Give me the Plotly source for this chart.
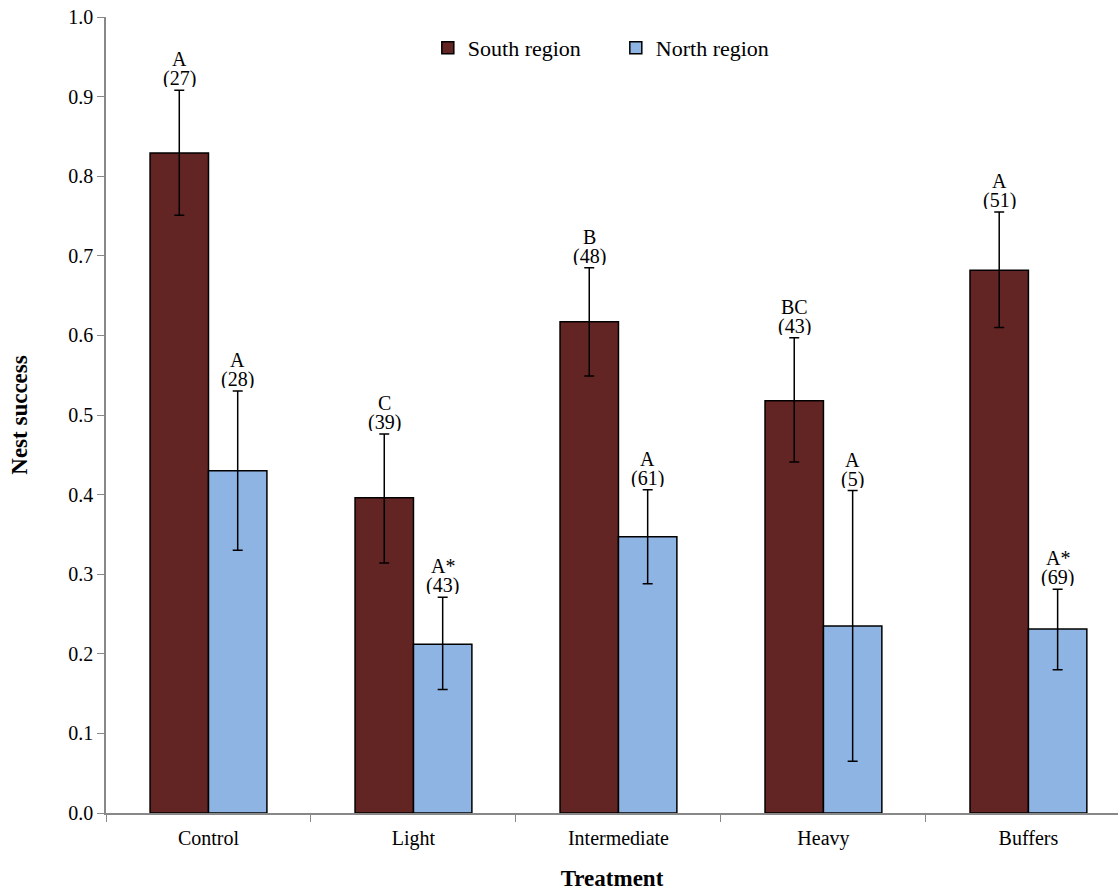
import plotly.graph_objects as go

treatments = ["Control", "Light", "Intermediate", "Heavy", "Buffers"]
south = [0.829, 0.396, 0.617, 0.518, 0.682]
south_hi = [0.908, 0.476, 0.685, 0.597, 0.755]
south_lo = [0.751, 0.314, 0.549, 0.441, 0.610]
north = [0.430, 0.212, 0.347, 0.235, 0.231]
north_hi = [0.530, 0.271, 0.406, 0.405, 0.281]
north_lo = [0.330, 0.155, 0.288, 0.065, 0.180]
south_letters = ["A", "C", "B", "BC", "A"]
south_n = [27, 39, 48, 43, 51]
north_letters = ["A", "A*", "A", "A", "A*"]
north_n = [28, 43, 61, 5, 69]

FONT = "Liberation Serif, Times New Roman, serif"

fig = go.Figure()
fig.add_trace(go.Bar(
    x=treatments, y=south, name="South region", offsetgroup="s",
    marker=dict(color="#632523", line=dict(color="black", width=1.5)),
    error_y=dict(type="data", symmetric=False,
                 array=[h - v for h, v in zip(south_hi, south)],
                 arrayminus=[v - l for v, l in zip(south, south_lo)],
                 color="black", thickness=1.5, width=5),
))
fig.add_trace(go.Bar(
    x=treatments, y=north, name="North region", offsetgroup="n",
    marker=dict(color="#8EB4E3", line=dict(color="black", width=1.5)),
    error_y=dict(type="data", symmetric=False,
                 array=[h - v for h, v in zip(north_hi, north)],
                 arrayminus=[v - l for v, l in zip(north, north_lo)],
                 color="black", thickness=1.5, width=5),
))

offset = 0.143
def label(xpos, ytop, letter, n):
    fig.add_annotation(x=xpos, y=ytop, xref="x", yref="y", text=f"({n})",
                       showarrow=False, yanchor="bottom", yshift=2, height=18,
                       borderpad=0,
                       font=dict(family=FONT, size=20, color="black"))
    fig.add_annotation(x=xpos, y=ytop, xref="x", yref="y", text=letter,
                       showarrow=False, yanchor="bottom", yshift=21, height=18,
                       borderpad=0,
                       font=dict(family=FONT, size=20, color="black"))

for i in range(len(treatments)):
    label(i - offset, south_hi[i], south_letters[i], south_n[i])
    label(i + offset, north_hi[i], north_letters[i], north_n[i])

fig.update_layout(
    width=1118, height=891,
    margin=dict(l=106, r=0, t=17, b=78),
    paper_bgcolor="white", plot_bgcolor="white",
    barmode="group", bargap=0.43, bargroupgap=0,
    font=dict(family=FONT, size=20, color="black"),
    legend=dict(orientation="h", x=0.318, xanchor="left", y=0.961, yanchor="middle",
                font=dict(family=FONT, size=22), itemwidth=30, entrywidth=143,
                entrywidthmode="pixels", bgcolor="rgba(0,0,0,0)"),
    xaxis=dict(range=[-0.5, 4.437], tickson="boundaries", ticks="outside",
               ticklen=7, tickcolor="#888", showline=True, linecolor="#888",
               linewidth=1.5, showgrid=False, automargin=False,
               ticklabelstandoff=6, ticklabeloverflow="allow",
               tickfont=dict(family=FONT, size=20),
               title=dict(text="<b>Treatment</b>", font=dict(family=FONT, size=23),
                          standoff=32)),
    yaxis=dict(range=[0, 1.0], dtick=0.1, tickformat=".1f", ticks="outside",
               ticklen=7, tickcolor="#888", showline=True, linecolor="#888",
               linewidth=1.5, showgrid=False, zeroline=False, automargin=False,
               ticklabeloverflow="allow",
               tickfont=dict(family=FONT, size=20),
               title=dict(text="<b>Nest success</b>", font=dict(family=FONT, size=23),
                          standoff=34)),
)

fig.write_html("out.html", config={"displayModeBar": False},
               post_script="document.body.style.margin='0';")
